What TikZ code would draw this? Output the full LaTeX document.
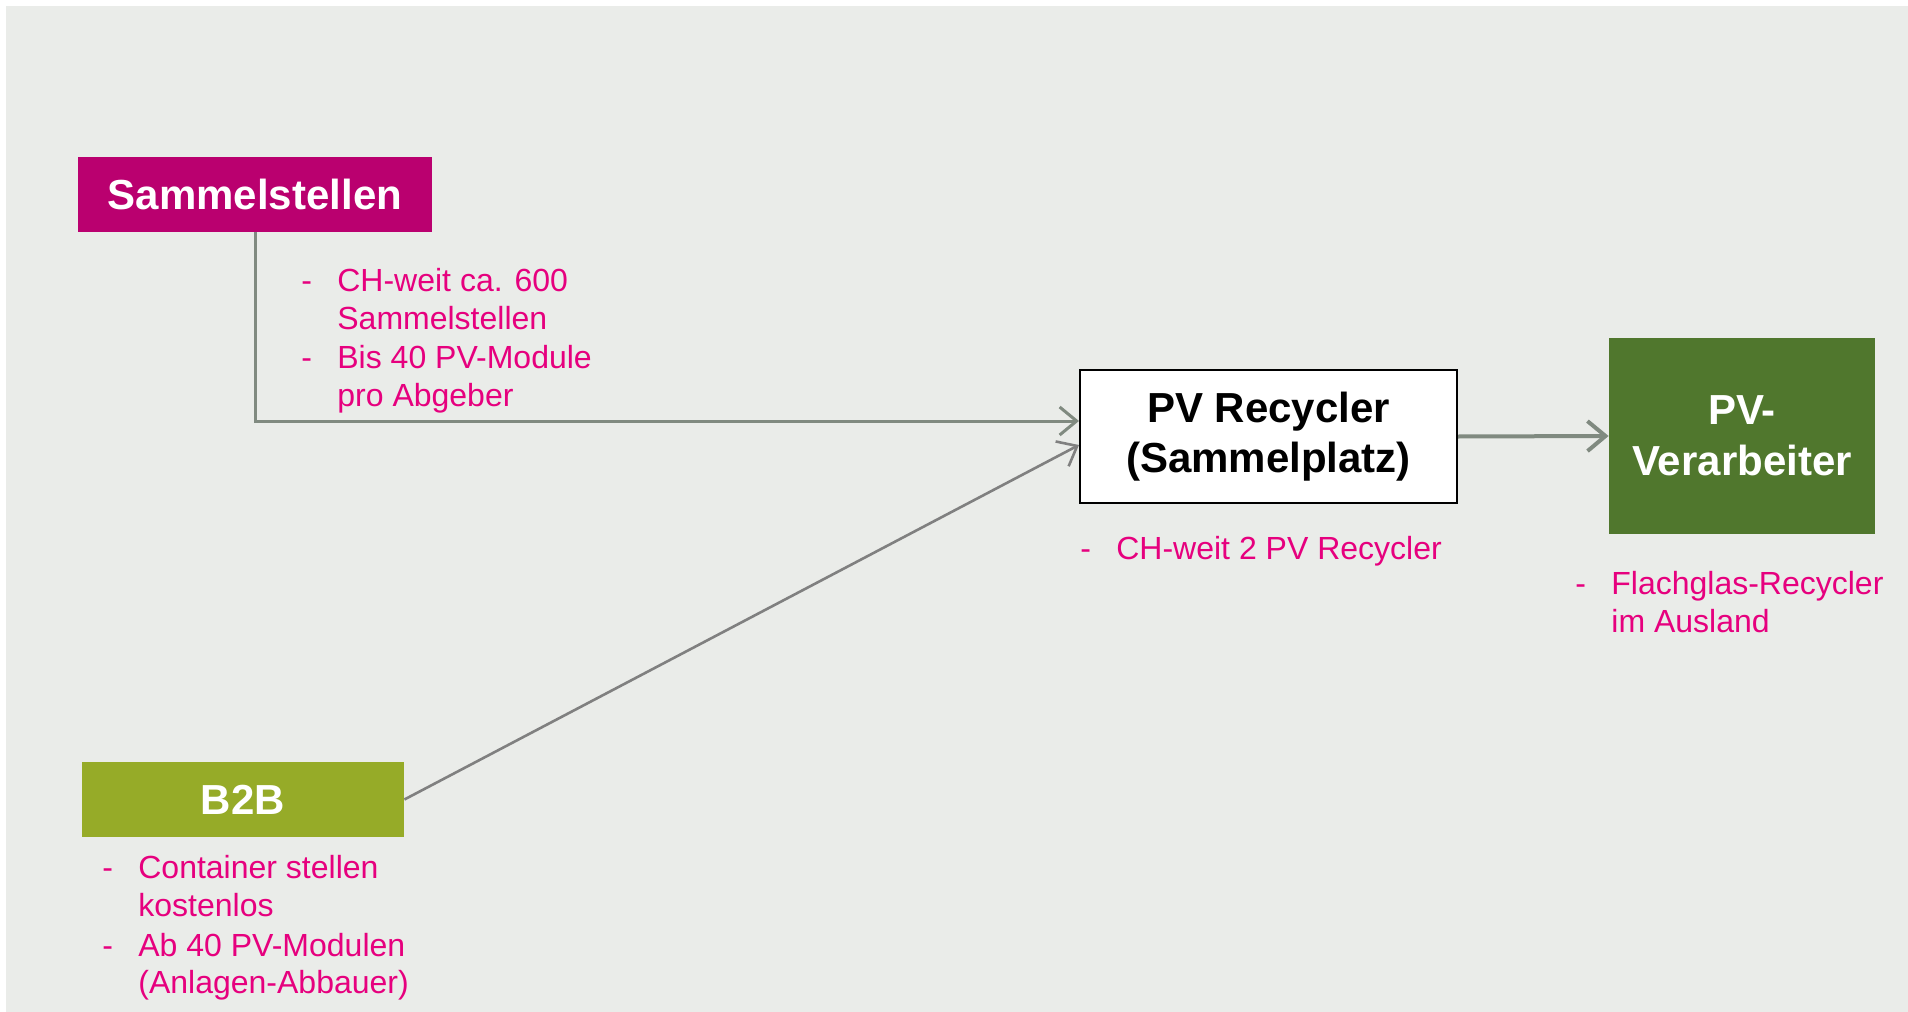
\documentclass[tikz,border=0pt]{standalone}
\usepackage{fontspec}
\setmainfont{Liberation Sans}
\usetikzlibrary{arrows.meta,calc}
\definecolor{bgc}{RGB}{234,236,233}
\definecolor{magbox}{RGB}{186,0,111}
\definecolor{pinktxt}{RGB}{230,0,126}
\definecolor{olive}{RGB}{150,171,40}
\definecolor{darkgreen}{RGB}{80,119,45}
\definecolor{linegray}{RGB}{128,138,128}
\newcommand{\listdash}{\makebox[18pt][l]{-}}
\tikzset{
  titlebox/.style={inner sep=0pt, align=center, font=\fontsize{21}{25}\selectfont\bfseries},
  pinknote/.style={text=pinktxt, font=\fontsize{16}{19}\selectfont, anchor=base west, inner sep=0pt},
  conn/.style={draw=linegray, line width=1.5pt, -{Straight Barb[length=8.5pt,width=14pt]}},
}
\begin{document}
\begin{tikzpicture}[x=0.5pt,y=-0.5pt]
\path[use as bounding box] (0,0) rectangle (1908,1012);
\fill[white] (0,0) rectangle (1908,1012);
\fill[bgc] (6,6) rectangle (1908,1012);

% boxes
\node[titlebox, fill=magbox, text=white, minimum width=177pt, minimum height=37.5pt] (samm) at (255,194.5) {Sammelstellen};
\node[titlebox, fill=olive, text=white, minimum width=161pt, minimum height=37.5pt] (b2b) at (243,799.5) {B2B};
\node[titlebox, fill=white, draw=black, line width=1pt, text=black, minimum width=188.5pt, minimum height=66.5pt] (rec) at (1268.5,436.5) {PV Recycler\\(Sammelplatz)};
\node[titlebox, fill=darkgreen, text=white, minimum width=133pt, minimum height=98pt, font=\fontsize{21}{25.5}\selectfont\bfseries] (verb) at (1742,436) {PV-\\Verarbeiter};

% connectors
\draw[conn] (samm.south) |- ($(rec.west)+(0,-15.5)$);
\draw[conn, draw=gray, line width=1.3pt] (b2b.east) -- ($(rec.west)+(0,8.5)$);
\draw[conn, line width=2pt, -{Straight Barb[length=9pt,width=15pt]}] (rec.east) -- (verb.west);

% notes Sammelstellen
\node[pinknote] (s1) at (301,291) {\listdash CH-weit ca. 600};
\node[pinknote] (s2) at (337,329) {Sammelstellen};
\node[pinknote] (s3) at (301,368) {\listdash Bis 40 PV-Module};
\node[pinknote] (s4) at (337,406) {pro Abgeber};

% notes PV Recycler
\node[pinknote] (r1) at (1080,559) {\listdash CH-weit 2 PV Recycler};

% notes Verarbeiter
\node[pinknote] (v1) at (1575,594) {\listdash Flachglas-Recycler};
\node[pinknote] (v2) at (1611,632) {im Ausland};

% notes B2B
\node[pinknote] (b1) at (102,878) {\listdash Container stellen};
\node[pinknote] (b2) at (138,916.5) {kostenlos};
\node[pinknote] (b3) at (102,956) {\listdash Ab 40 PV-Modulen};
\node[pinknote] (b4) at (138,993) {(Anlagen-Abbauer)};
\end{tikzpicture}
\end{document}
